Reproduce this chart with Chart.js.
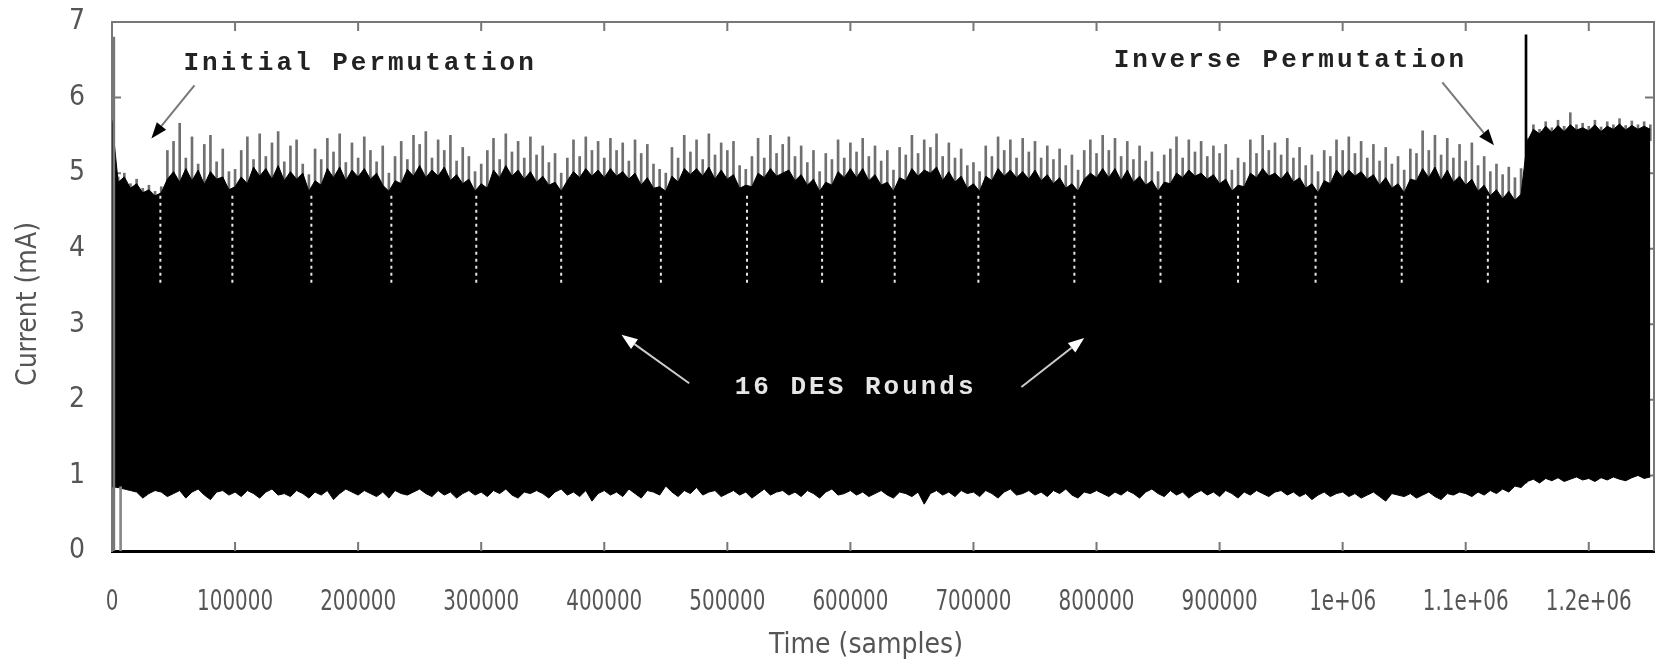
<!DOCTYPE html>
<html>
<head>
<meta charset="utf-8">
<script src="https://cdn.jsdelivr.net/npm/chart.js@4.4.0/dist/chart.umd.min.js"></script>
<style>
html, body { margin: 0; padding: 0; background: #fff; }
canvas { display: block; }
</style>
</head>
<body>
<canvas id="traceChart" width="1656" height="663"></canvas>
<script>
// power trace envelope, one value every 5000 samples
const sampleStep = 5000;

const upperBody = [
    5.70, 4.88, 4.95, 4.80, 4.86, 4.74, 4.78, 4.70, 4.74, 4.92,
    5.02, 4.88, 5.06, 4.90, 5.04, 4.85, 5.02, 4.92, 4.95, 4.78,
    4.82, 4.95, 4.86, 5.08, 4.96, 5.06, 4.92, 5.10, 4.90, 5.02,
    4.92, 5.00, 4.76, 4.90, 4.84, 5.06, 4.94, 5.08, 4.90, 5.04,
    4.95, 5.06, 4.92, 5.00, 4.84, 4.76, 4.90, 4.86, 5.05, 4.96,
    5.10, 4.94, 5.04, 4.96, 5.08, 4.90, 4.98, 4.86, 4.92, 4.76,
    4.86, 4.80, 5.04, 4.94, 5.10, 4.96, 5.04, 4.92, 5.02, 4.88,
    4.96, 4.84, 4.88, 4.76, 4.90, 5.02, 4.94, 5.06, 4.96, 5.04,
    4.94, 5.06, 4.96, 5.02, 4.92, 5.00, 4.84, 4.94, 4.80, 4.82,
    4.76, 4.96, 4.88, 5.06, 4.98, 5.06, 4.96, 5.08, 4.92, 5.04,
    4.92, 4.98, 4.80, 4.84, 4.82, 5.00, 4.94, 5.06, 4.96, 5.00,
    5.04, 4.90, 4.98, 4.84, 4.92, 4.76, 4.88, 4.84, 5.02, 4.94,
    5.06, 4.94, 5.06, 4.90, 4.98, 4.84, 4.88, 4.76, 4.94, 4.90,
    5.06, 4.96, 5.04, 5.00, 5.08, 4.90, 5.02, 4.88, 4.96, 4.80,
    4.86, 4.76, 4.96, 4.90, 5.06, 4.96, 5.04, 4.94, 5.02, 4.92,
    5.04, 4.90, 4.98, 4.86, 4.94, 4.80, 4.86, 4.76, 4.92, 5.00,
    4.94, 5.06, 4.94, 5.06, 4.90, 5.04, 4.88, 4.96, 4.84, 4.90,
    4.76, 4.88, 4.86, 5.00, 4.94, 5.04, 4.96, 5.00, 4.92, 4.98,
    4.86, 4.92, 4.76, 4.84, 4.82, 5.00, 4.94, 5.06, 4.96, 5.00,
    4.92, 5.02, 4.88, 4.94, 4.80, 4.86, 4.74, 4.90, 4.86, 5.04,
    4.94, 5.04, 4.96, 5.02, 4.92, 4.98, 4.84, 4.94, 4.80, 4.86,
    4.74, 4.92, 4.90, 5.06, 4.94, 5.08, 4.90, 5.04, 4.88, 4.96,
    4.84, 4.92, 4.76, 4.84, 4.70, 4.78, 4.66, 4.76, 4.64, 4.72,
    5.42, 5.58, 5.52, 5.62, 5.54, 5.63, 5.55, 5.64, 5.57, 5.60,
    5.56, 5.64, 5.55, 5.62, 5.58, 5.65, 5.57, 5.63, 5.58, 5.62,
    5.58
];

const upperPeaks = [
    5.70, 4.95, 5.00, 4.86, 4.92, 4.80, 4.84, 4.76, 4.82, 5.30,
    5.42, 5.66, 5.20, 5.48, 5.12, 5.38, 5.50, 5.15, 5.32, 5.02,
    5.05, 5.30, 5.48, 5.18, 5.52, 5.22, 5.40, 5.55, 5.15, 5.36,
    5.44, 5.12, 4.98, 5.32, 5.18, 5.46, 5.28, 5.52, 5.14, 5.40,
    5.20, 5.48, 5.30, 5.15, 5.36, 5.00, 5.22, 5.42, 5.18, 5.50,
    5.38, 5.55, 5.20, 5.44, 5.30, 5.50, 5.16, 5.34, 5.22, 5.02,
    5.12, 5.30, 5.46, 5.18, 5.52, 5.28, 5.42, 5.20, 5.48, 5.24,
    5.36, 5.14, 5.26, 5.00, 5.20, 5.44, 5.22, 5.48, 5.30, 5.42,
    5.20, 5.46, 5.30, 5.40, 5.16, 5.44, 5.26, 5.38, 5.12, 5.05,
    5.00, 5.34, 5.20, 5.50, 5.28, 5.44, 5.18, 5.52, 5.24, 5.40,
    5.30, 5.42, 5.10, 5.05, 5.22, 5.46, 5.20, 5.50, 5.26, 5.38,
    5.48, 5.22, 5.36, 5.14, 5.30, 5.02, 5.26, 5.18, 5.44, 5.20,
    5.40, 5.28, 5.46, 5.22, 5.36, 5.16, 5.30, 5.04, 5.34, 5.24,
    5.50, 5.26, 5.44, 5.34, 5.52, 5.22, 5.40, 5.20, 5.32, 5.10,
    5.14, 5.02, 5.36, 5.22, 5.48, 5.30, 5.44, 5.20, 5.46, 5.28,
    5.42, 5.20, 5.36, 5.18, 5.32, 5.10, 5.24, 5.04, 5.30, 5.44,
    5.26, 5.50, 5.30, 5.46, 5.22, 5.42, 5.18, 5.36, 5.16, 5.28,
    5.02, 5.24, 5.32, 5.48, 5.20, 5.44, 5.28, 5.42, 5.22, 5.36,
    5.26, 5.38, 5.04, 5.20, 5.14, 5.44, 5.26, 5.50, 5.30, 5.40,
    5.24, 5.46, 5.20, 5.34, 5.10, 5.24, 5.02, 5.30, 5.22, 5.44,
    5.30, 5.48, 5.26, 5.42, 5.20, 5.38, 5.16, 5.34, 5.12, 5.22,
    5.04, 5.32, 5.26, 5.56, 5.30, 5.50, 5.24, 5.46, 5.20, 5.38,
    5.16, 5.40, 5.10, 5.22, 5.02, 5.12, 4.98, 5.08, 4.94, 5.06,
    5.46, 5.64, 5.58, 5.68, 5.60, 5.70, 5.62, 5.80, 5.64, 5.66,
    5.62, 5.70, 5.61, 5.68, 5.64, 5.72, 5.63, 5.69, 5.64, 5.68,
    5.64
];

const lowerEdge = [
    0.85, 0.84, 0.82, 0.80, 0.78, 0.70, 0.76, 0.80, 0.78, 0.72,
    0.76, 0.80, 0.70, 0.78, 0.82, 0.74, 0.68, 0.78, 0.80, 0.74,
    0.78, 0.72, 0.80, 0.76, 0.70, 0.78, 0.82, 0.74, 0.76, 0.72,
    0.80, 0.76, 0.70, 0.78, 0.74, 0.80, 0.68, 0.76, 0.82, 0.78,
    0.74, 0.80, 0.76, 0.72, 0.78, 0.70, 0.80, 0.76, 0.74, 0.78,
    0.82, 0.76, 0.72, 0.80, 0.74, 0.78, 0.70, 0.76, 0.80, 0.74,
    0.78, 0.72, 0.80, 0.76, 0.82, 0.74, 0.70, 0.78, 0.76, 0.80,
    0.76, 0.70, 0.78, 0.82, 0.74, 0.78, 0.72, 0.80, 0.66, 0.76,
    0.80, 0.74, 0.78, 0.72, 0.82, 0.76, 0.70, 0.80, 0.78, 0.74,
    0.86, 0.78, 0.72, 0.80, 0.76, 0.84, 0.74, 0.78, 0.80, 0.72,
    0.76, 0.80, 0.74, 0.78, 0.70, 0.76, 0.82, 0.74, 0.78, 0.80,
    0.74, 0.78, 0.72, 0.80, 0.76, 0.70, 0.78, 0.82, 0.74, 0.76,
    0.80, 0.74, 0.78, 0.72, 0.76, 0.80, 0.74, 0.70, 0.78, 0.76,
    0.72, 0.78, 0.62, 0.76, 0.80, 0.74, 0.78, 0.72, 0.80, 0.76,
    0.78, 0.72, 0.80, 0.76, 0.70, 0.78, 0.82, 0.74, 0.76, 0.80,
    0.74, 0.78, 0.72, 0.80, 0.76, 0.82, 0.74, 0.70, 0.78, 0.76,
    0.80, 0.76, 0.72, 0.78, 0.74, 0.80, 0.76, 0.70, 0.78, 0.82,
    0.76, 0.72, 0.80, 0.74, 0.78, 0.70, 0.76, 0.80, 0.74, 0.78,
    0.72, 0.80, 0.76, 0.70, 0.78, 0.74, 0.80, 0.76, 0.72, 0.78,
    0.80, 0.74, 0.78, 0.72, 0.76, 0.68, 0.74, 0.78, 0.72, 0.76,
    0.78, 0.72, 0.76, 0.70, 0.74, 0.78, 0.72, 0.66, 0.76, 0.74,
    0.72, 0.76, 0.70, 0.74, 0.78, 0.72, 0.68, 0.76, 0.74, 0.78,
    0.76, 0.72, 0.78, 0.74, 0.80, 0.76, 0.82, 0.78, 0.86, 0.84,
    0.92, 0.95, 0.90, 0.96, 0.93, 0.97, 0.92, 0.95, 0.98, 0.94,
    0.96, 0.92, 0.97, 0.94, 0.98, 0.95, 0.93, 0.97, 1.00, 0.96,
    0.98
];

// single-sample glitches: start of trace and the jump before the last permutation
const glitchTimes = [1500, 7000, 1149000];
const glitchLows = [0, 0, 0.9];
const glitchHighs = [6.8, 0.85, 6.83];

// dotted markers between the DES rounds
const roundBoundaries = [39300, 97800, 162000, 227000, 296000, 365000, 446000, 516000, 577000,
    636000, 704000, 782000, 852000, 915000, 978000, 1048000, 1118000];
const markerLow = 3.55;
const markerHigh = 4.75;

const xTickValues = [0, 100000, 200000, 300000, 400000, 500000, 600000,
    700000, 800000, 900000, 1000000, 1100000, 1200000];
const xMax = 1253000;
const yMax = 7;

const sampleTimes = upperBody.map((v, i) => i * sampleStep);
const toPoints = arr => arr.map((v, i) => ({ x: sampleTimes[i], y: v }));

const fontFamily = '"Liberation Sans Narrow", "DejaVu Sans Condensed", sans-serif';
const tickFont = { family: fontFamily, size: 28 };
const tickColor = '#555';

// text notes with arrows, in data coordinates
const notes = [
    { text: 'Initial Permutation', x: 58000, y: 6.45, color: '#222',
      arrows: [[67000, 6.16, 32000, 5.46]], line: '#777', head: '#000' },
    { text: 'Inverse Permutation', x: 814000, y: 6.49, color: '#222',
      arrows: [[1081000, 6.20, 1123000, 5.37]], line: '#777', head: '#000' },
    { text: '16 DES Rounds', x: 506000, y: 2.16, color: '#e6e6e6', arrows: [
      [469000, 2.22, 414000, 2.86], [739000, 2.17, 790000, 2.82]], line: '#ccc', head: '#fff' }
];

function formatSamples(v) {
    if (v === 0) return '0';
    if (v >= 1000000) return (v / 1000000) + 'e+06';
    return String(v);
}

function drawArrow(ctx, x1, y1, x2, y2, lineColor, headColor) {
    const ang = Math.atan2(y2 - y1, x2 - x1);
    const len = 16, half = 6;
    const bx = x2 - len * Math.cos(ang), by = y2 - len * Math.sin(ang);
    ctx.strokeStyle = lineColor;
    ctx.lineWidth = 2;
    ctx.beginPath();
    ctx.moveTo(x1, y1);
    ctx.lineTo(bx, by);
    ctx.stroke();
    ctx.fillStyle = headColor;
    ctx.beginPath();
    ctx.moveTo(x2, y2);
    ctx.lineTo(bx + half * Math.sin(ang), by - half * Math.cos(ang));
    ctx.lineTo(bx - half * Math.sin(ang), by + half * Math.cos(ang));
    ctx.closePath();
    ctx.fill();
}

const framePlugin = {
    id: 'frameAndNotes',
    beforeDatasetsDraw(chart) {
        const { ctx, chartArea: a, scales: { x, y } } = chart;
        ctx.save();
        ctx.strokeStyle = '#777';
        ctx.lineWidth = 2;
        x.ticks.forEach(t => {
            if (t.value <= 0) return;
            const px = x.getPixelForValue(t.value);
            ctx.beginPath();
            ctx.moveTo(px, a.bottom); ctx.lineTo(px, a.bottom - 9);
            ctx.moveTo(px, a.top); ctx.lineTo(px, a.top + 9);
            ctx.stroke();
        });
        y.ticks.forEach(t => {
            if (t.value <= 0 || t.value >= yMax) return;
            const py = y.getPixelForValue(t.value);
            ctx.beginPath();
            ctx.moveTo(a.left, py); ctx.lineTo(a.left + 9, py);
            ctx.moveTo(a.right, py); ctx.lineTo(a.right - 9, py);
            ctx.stroke();
        });
        ctx.restore();
    },
    afterDatasetsDraw(chart) {
        const { ctx, chartArea: a, scales: { x, y } } = chart;
        ctx.save();
        // top and right frame
        ctx.strokeStyle = '#777';
        ctx.lineWidth = 2;
        ctx.beginPath();
        ctx.moveTo(a.left, a.top);
        ctx.lineTo(a.right, a.top);
        ctx.lineTo(a.right, a.bottom);
        ctx.stroke();

        notes.forEach(n => {
            ctx.font = 'bold 26px "Liberation Mono", "DejaVu Sans Mono", monospace';
            ctx.letterSpacing = '3px';
            ctx.fillStyle = n.color;
            ctx.textAlign = 'left';
            ctx.textBaseline = 'middle';
            ctx.fillText(n.text, x.getPixelForValue(n.x), y.getPixelForValue(n.y));
            n.arrows.forEach(ar => drawArrow(ctx,
                x.getPixelForValue(ar[0]), y.getPixelForValue(ar[1]),
                x.getPixelForValue(ar[2]), y.getPixelForValue(ar[3]), n.line, n.head));
        });
        ctx.letterSpacing = '0px';

        // x tick labels, squeezed to the narrow look of the original
        ctx.font = '28px ' + fontFamily;
        ctx.fillStyle = tickColor;
        ctx.textAlign = 'center';
        ctx.textBaseline = 'middle';
        const squeeze = Math.min(1, 76 / ctx.measureText('100000').width);
        x.ticks.forEach(t => {
            const px = x.getPixelForValue(t.value);
            ctx.save();
            ctx.translate(px, 603);
            ctx.scale(squeeze, 1);
            ctx.fillText(formatSamples(t.value), 0, 0);
            ctx.restore();
        });

        // axis titles
        ctx.fillText('Time (samples)', 866, 646);
        ctx.translate(29, 304);
        ctx.rotate(-Math.PI / 2);
        ctx.fillText('Current (mA)', 0, 0);
        ctx.restore();
    }
};

const datasets = [
    {
        label: 'lower', type: 'line', data: toPoints(lowerEdge),
        borderColor: '#000', borderWidth: 1, pointRadius: 0, fill: false, order: 5
    },
    {
        label: 'upper', type: 'line', data: toPoints(upperBody),
        borderColor: '#000', borderWidth: 1, pointRadius: 0,
        fill: 0, backgroundColor: '#000', order: 4
    },
    {
        label: 'peaks', type: 'bar', grouped: false,
        data: upperPeaks.map((p, i) => ({ x: sampleTimes[i], y: [upperBody[i] - 0.15, p] })),
        backgroundColor: '#707070', barThickness: 2, order: 6
    },
    {
        label: 'glitch', type: 'bar', grouped: false,
        data: glitchTimes.map((t, i) => ({ x: t, y: [glitchLows[i], glitchHighs[i]] })),
        backgroundColor: ['#777', '#888', '#000'], barThickness: [2, 2, 3], order: 1
    }
];

roundBoundaries.forEach(t => {
    datasets.push({
        label: 'round', type: 'line',
        data: [{ x: t, y: markerLow }, { x: t, y: markerHigh }],
        borderColor: 'rgba(255,255,255,0.9)', borderWidth: 2, borderDash: [3, 4],
        pointRadius: 0, fill: false, order: 2
    });
});

new Chart(document.getElementById('traceChart').getContext('2d'), {
    type: 'line',
    data: { datasets: datasets },
    options: {
        responsive: false,
        animation: false,
        devicePixelRatio: 1,
        layout: { padding: { top: 22, right: 2, left: 0, bottom: 0 } },
        plugins: {
            legend: { display: false },
            tooltip: { enabled: false }
        },
        scales: {
            x: {
                type: 'linear', min: 0, max: xMax, offset: false,
                grid: { display: false, drawTicks: false },
                border: { color: '#000', width: 3 },
                ticks: { display: false },
                afterBuildTicks: s => { s.ticks = xTickValues.map(v => ({ value: v })); },
                afterFit: s => { s.height = 112; s.paddingLeft = 0; s.paddingRight = 0; }
            },
            y: {
                min: 0, max: yMax,
                grid: { display: false, drawTicks: false },
                border: { color: '#777', width: 2 },
                ticks: { stepSize: 1, font: tickFont, color: tickColor, padding: 27 },
                afterFit: s => { s.width = 112; s.paddingTop = 0; s.paddingBottom = 0; }
            }
        }
    },
    plugins: [framePlugin]
});
</script>
</body>
</html>
